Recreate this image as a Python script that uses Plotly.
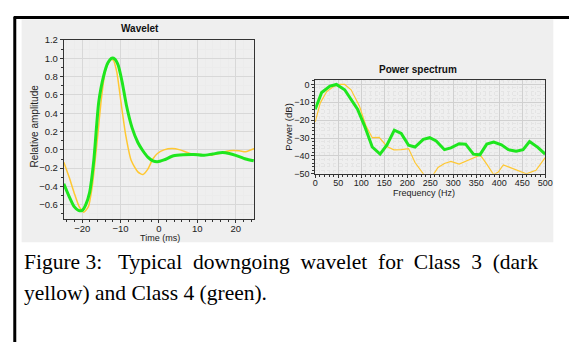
import plotly.graph_objects as go

W, H = 577, 347

# ---- Wavelet data (time in ms, relative amplitude) ----
wave_t_green = [-24.8, -23.4, -22.1, -21.0, -20.0, -19.1, -18.1, -17.0, -15.7, -14.4, -13.3, -12.3,
                -11.5, -10.6, -9.6, -8.5, -7.0, -5.5, -4.2, -2.9, -1.6, -0.4, 1.3, 3.8, 6.4, 9.0,
                11.5, 14.0, 16.6, 18.3, 20.0, 22.6, 24.7]
wave_a_green = [-0.37, -0.51, -0.62, -0.66, -0.66, -0.60, -0.47, -0.12, 0.52, 0.81, 0.95, 1.0,
                0.99, 0.92, 0.74, 0.49, 0.24, 0.08, -0.01, -0.08, -0.12, -0.13, -0.11, -0.064, -0.053, -0.05,
                -0.06, -0.045, -0.03, -0.04, -0.06, -0.10, -0.12]
wave_t_yellow = [-24.8, -23.4, -22.1, -20.8, -19.6, -18.4, -17.4, -16.1, -15.0, -13.9, -12.7, -11.9,
                 -11.0, -9.9, -8.7, -7.2, -5.5, -4.2, -2.9, -1.6, -0.4, 1.3, 3.4, 5.5, 8.1, 10.6,
                 13.2, 15.7, 18.3, 20.9, 22.6, 24.9]
wave_a_yellow = [-0.135, -0.30, -0.47, -0.62, -0.68, -0.62, -0.40, 0.10, 0.56, 0.88, 0.98, 0.98,
                 0.85, 0.52, 0.17, -0.12, -0.24, -0.27, -0.21, -0.10, -0.04, 0.0, 0.015, 0.0, -0.04, -0.05,
                 -0.06, -0.04, -0.01, -0.01, -0.02, 0.015]

# ---- Power spectrum data (Hz, dB) ----
ps_f_green = [0, 14, 32, 46, 64, 78, 92, 107, 124, 141, 156, 172, 187, 203, 217, 235, 249, 263, 281,
              295, 313, 327, 344, 358, 373, 388, 405, 420, 437, 452, 466, 484, 500]
ps_db_green = [-13.9, -4.5, -0.9, 0.0, -3.0, -8.5, -13.9, -23.0, -35.0, -39.0, -33.8, -25.6, -27.4,
               -34.0, -35.0, -30.7, -29.8, -31.6, -36.5, -35.5, -33.2, -33.4, -39.0, -39.4, -33.4,
               -32.3, -33.8, -36.5, -37.4, -36.5, -32.0, -35.2, -39.0]
ps_f_yellow = [0, 11, 25, 39, 53, 64, 78, 96, 110, 124, 139, 156, 171, 187, 203, 217, 235, 247, 258,
               267, 281, 295, 313, 327, 345, 359, 373, 388, 398, 409, 423, 441, 459, 480, 500]
ps_db_yellow = [-21.0, -10.3, -4.0, -1.3, 0.0, 0.0, -3.0, -12.0, -23.0, -29.8, -29.6, -34.7, -36.6,
                -36.5, -35.9, -43.7, -50.0, -55.0, -50.0, -46.4, -44.2, -43.1, -44.6, -43.1, -41.0,
                -39.5, -44.6, -50.5, -49.0, -45.0, -46.4, -48.2, -50.0, -48.0, -41.0]

GREEN = "#1ee61e"
YELLOW = "#ffc832"

def px_x(v):
    return v / W

def px_y(v):
    return 1 - v / H

fig = go.Figure()
fig.add_trace(go.Scatter(x=wave_t_yellow, y=wave_a_yellow, mode="lines", line=dict(color=YELLOW, width=1.5, shape="spline", smoothing=0.6), xaxis="x", yaxis="y"))
fig.add_trace(go.Scatter(x=wave_t_green, y=wave_a_green, mode="lines", line=dict(color=GREEN, width=3, shape="spline", smoothing=0.6), xaxis="x", yaxis="y"))
fig.add_trace(go.Scatter(x=ps_f_yellow, y=ps_db_yellow, mode="lines", line=dict(color=YELLOW, width=1.2), xaxis="x2", yaxis="y2"))
fig.add_trace(go.Scatter(x=ps_f_green, y=ps_db_green, mode="lines", line=dict(color=GREEN, width=3), xaxis="x2", yaxis="y2"))

tickfont = dict(family="Liberation Sans, Arial, sans-serif", size=9.5, color="#222")
tickfont2 = dict(family="Liberation Sans, Arial, sans-serif", size=9, color="#222")
axcommon = dict(showline=True, linecolor="#333", linewidth=1, mirror=True, ticks="outside",
                ticklen=3, tickcolor="#333", zeroline=False)

fig.update_layout(
    width=W, height=H, margin=dict(l=0, r=0, t=0, b=0),
    paper_bgcolor="white", plot_bgcolor="white", showlegend=False,
    xaxis=dict(domain=[px_x(62), px_x(256)], range=[-24.8, 24.8], anchor="y",
               tickvals=[-20, -10, 0, 10, 20], showgrid=True, gridcolor="#d8d8d8", gridwidth=1,
               ticklabelstandoff=-2, tickfont=tickfont,
               minor=dict(dtick=2, showgrid=True, gridcolor="#ececec", ticks="outside", ticklen=2, tickcolor="#333"),
               **axcommon),
    yaxis=dict(domain=[px_y(220), px_y(35)], range=[-0.755, 1.2], anchor="x",
               tickvals=[-0.6, -0.4, -0.2, 0.0, 0.2, 0.4, 0.6, 0.8, 1.0, 1.2], tickformat=".1f",
               showgrid=True, gridcolor="#d8d8d8", gridwidth=1, tickfont=tickfont,
               minor=dict(dtick=0.1, showgrid=True, gridcolor="#ececec", ticks="outside", ticklen=2, tickcolor="#333"),
               **axcommon),
    xaxis2=dict(domain=[px_x(318.3), px_x(552.7)], range=[0, 500], anchor="y2",
                dtick=50, showgrid=True, gridcolor="#d0d0d0", gridwidth=1,
                ticklabelstandoff=-3, tickfont=tickfont2,
                minor=dict(dtick=10, showgrid=True, gridcolor="#e4e4e4", griddash="dot", ticks="outside", ticklen=2, tickcolor="#333"),
                **axcommon),
    yaxis2=dict(domain=[px_y(173.3), px_y(76)], range=[-50, 2.7], anchor="x2",
                dtick=10, showgrid=True, gridcolor="#d0d0d0", gridwidth=1, tickfont=tickfont2,
                minor=dict(dtick=2, showgrid=True, gridcolor="#e4e4e4", griddash="dot", ticks="outside", ticklen=2, tickcolor="#333"),
                **axcommon),
)

shapes = [
    dict(type="rect", xref="paper", yref="paper", x0=px_x(19), x1=px_x(561), y0=px_y(244), y1=px_y(14),
         fillcolor="#efefef", line=dict(width=0), layer="below"),
    dict(type="line", xref="paper", yref="paper", x0=px_x(12), x1=px_x(12), y0=0, y1=px_y(11),
         line=dict(color="black", width=3)),
    dict(type="line", xref="paper", yref="paper", x0=px_x(11), x1=1, y0=px_y(12), y1=px_y(12),
         line=dict(color="black", width=3)),
]
fig.update_layout(shapes=shapes)

sans = "Liberation Sans, Arial, sans-serif"
serif = "Liberation Serif, Times New Roman, serif"
ann = [
    dict(text="<b>Wavelet</b>", x=px_x(140), y=px_y(23), font=dict(family=sans, size=10, color="#111")),
    dict(text="<b>Power spectrum</b>", x=px_x(423), y=px_y(66), font=dict(family=sans, size=10, color="#111")),
    dict(text="Relative amplitude", x=px_x(32), y=px_y(124), textangle=-90, font=dict(family=sans, size=10, color="#222")),
    dict(text="Time (ms)", x=px_x(160), y=px_y(240), font=dict(family=sans, size=9, color="#222")),
    dict(text="Power (dB)", x=px_x(290.7), y=px_y(124.5), textangle=-90, font=dict(family=sans, size=9.5, color="#222")),
    dict(text="Frequency (Hz)", x=px_x(429), y=px_y(193.5), font=dict(family=sans, size=9, color="#222")),
    dict(text="Figure 3:   Typical  downgoing  wavelet  for  Class  3  (dark", x=px_x(19), y=px_y(264),
         xanchor="left", font=dict(family=serif, size=21.5, color="black")),
    dict(text="yellow) and Class 4 (green).", x=px_x(19), y=px_y(296),
         xanchor="left", font=dict(family=serif, size=21.5, color="black")),
]
for a in ann:
    a.setdefault("xanchor", "center")
    a["xref"] = "paper"
    a["yref"] = "paper"
    a["yanchor"] = "middle"
    a["showarrow"] = False
fig.update_layout(annotations=ann)

fig.write_html("out.html", config={"displayModeBar": False},
               post_script="document.body.style.margin='0';document.body.style.overflow='hidden';")
